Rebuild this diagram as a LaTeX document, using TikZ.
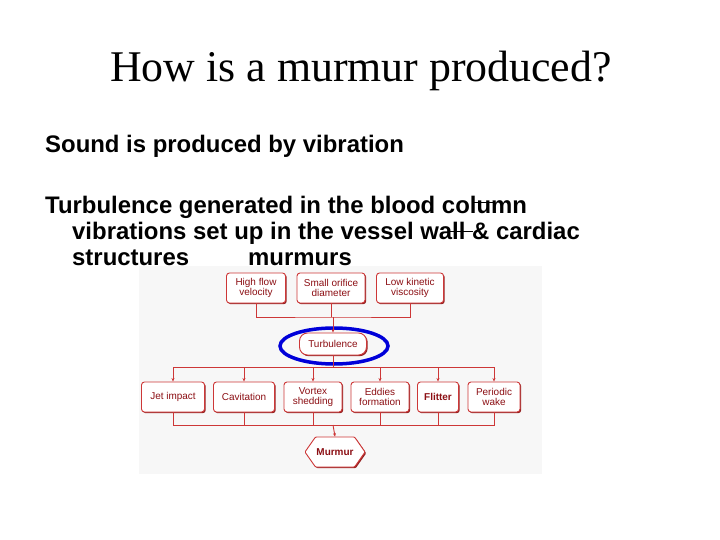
\documentclass[tikz,border=0pt]{standalone}
\usepackage{fontspec}
\setmainfont{Liberation Sans}
\newfontfamily\titlefont{Liberation Serif}
\usetikzlibrary{arrows.meta, positioning, shadows, shapes.geometric, shapes.symbols}
\definecolor{boxline}{RGB}{205,55,55}
\definecolor{boxtext}{RGB}{140,15,20}
\definecolor{boxshade}{RGB}{150,35,35}
\definecolor{scanbg}{RGB}{247,247,247}

\begin{document}
\begin{tikzpicture}[x=1bp, y=-1bp,
        txt/.style={anchor=base west, inner sep=0pt, font=\bfseries\fontsize{24}{26}\selectfont},
        b/.style={rectangle, draw=boxline, line width=0.9bp, rounded corners=3bp,
                  fill=white, text=boxtext, align=center, inner sep=1bp,
                  minimum height=30bp, font=\fontsize{10}{10.5}\selectfont,
                  drop shadow={shadow xshift=1.2bp, shadow yshift=-1.2bp, fill=boxshade, opacity=1}},
        ln/.style={boxline, line width=0.9bp},
        arr/.style={-{Stealth[length=3.5bp,width=3bp]}, boxline, line width=0.9bp}]
      \useasboundingbox (0,0) rectangle (720,540);
      % slide text
      \node[inner sep=0pt, anchor=base, font=\titlefont\fontsize{44}{48}\selectfont]
        (title) at (361,82) {How is a murmur produced?};
      \node[txt] (l1) at (45,153) {Sound is produced by vibration};
      \node[txt] (l2) at (45,214) {Turbulence generated in the blood column};
      \node[txt] (l3) at (72,240) {vibrations set up in the vessel wall \& cardiac};
      \node[txt] (l4) at (72,266) {structures};
      \node[txt] (l5) at (248,266) {murmurs};
      \draw[line width=1.3bp] (472,202.5) -- (494,202.5);
      \draw[line width=1.3bp] (448,231.5) -- (473,231.5);
      % scanned chart
      \fill[scanbg] (139,266) rectangle (542,474);
      \node[b, minimum width=59bp] (hi) at (256,288) {High flow\\velocity};
      \node[b, minimum width=68bp] (so) at (331,288) {Small orifice\\diameter};
      \node[b, minimum width=67bp] (lo) at (410,288) {Low kinetic\\viscosity};
      \node[b, minimum width=67bp, minimum height=22bp, rounded corners=8bp] (tu) at (333,344) {Turbulence};
      \node[draw=blue!85!black, line width=3.5bp, ellipse, minimum width=108bp, minimum height=36bp] (ring) at (334,346) {};
      \node[b, minimum width=63bp] (jet) at (173,397) {Jet impact};
      \node[b, minimum width=61bp] (cav) at (244,397) {Cavitation};
      \node[b, minimum width=58bp] (vor) at (313,397) {Vortex\\shedding};
      \node[b, minimum width=58bp] (edd) at (380,397) {Eddies\\formation};
      \node[b, minimum width=41bp, font=\bfseries\fontsize{10}{10.5}\selectfont] (fli) at (438,397) {Flitter};
      \node[b, minimum width=52bp] (per) at (494,397) {Periodic\\wake};
      \node[b, signal, signal to=west and east, signal pointer angle=110, rounded corners=1bp,
            minimum width=56bp, minimum height=30bp, font=\bfseries\fontsize{10}{10.5}\selectfont] (mur) at (335,452) {Murmur};
      \coordinate (j1) at (333,317);
      \coordinate (j2) at (333,367);
      \coordinate (j3) at (333,425);
      \draw[ln] (hi.south) |- (j1) -| (lo.south);
      \draw[ln] (so.south |- j1) -- (so.south);
      \draw[arr] (j1) -- (tu.north);
      \draw[ln] (tu.south) -- (j2);
      \foreach \n in {jet,cav,vor,edd,fli,per}
        \draw[arr] (j2) -| (\n.north);
      \foreach \n in {jet,cav,vor,edd,fli,per}
        \draw[ln] (\n.south) |- (j3);
      \draw[arr] (j3) -- (mur.north);
    \end{tikzpicture}
\end{document}
